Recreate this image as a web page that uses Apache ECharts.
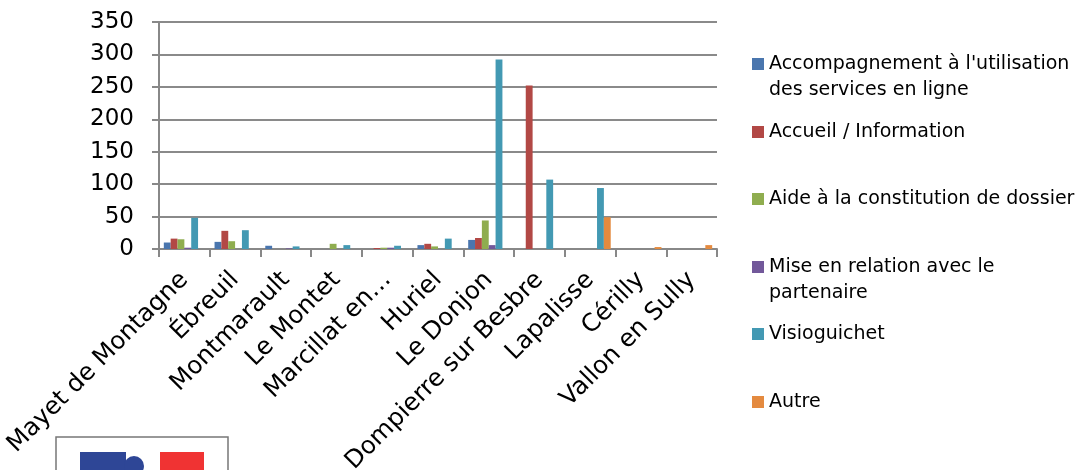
<!DOCTYPE html>
<html>
<head>
<meta charset="utf-8">
<script src="https://cdn.jsdelivr.net/npm/echarts@6/dist/echarts.min.js"></script>
<style>
html,body{margin:0;padding:0;background:#fff;}
#c{width:1083px;height:470px;}
</style>
</head>
<body>
<div id="c"></div>
<script>
var categories = ["Mayet de Montagne", "Ébreuil", "Montmarault", "Le Montet", "Marcillat en…", "Huriel", "Le Donjon", "Dompierre sur Besbre", "Lapalisse", "Cérilly", "Vallon en Sully"];
var seriesNames = ["Accompagnement à l'utilisation\ndes services en ligne", "Accueil / Information", "Aide à la constitution de dossier", "Mise en relation avec le\npartenaire", "Visioguichet", "Autre"];
var accompagnement = [10, 11, 5, 0, 0, 6, 14, 0, 0, 0, 0];
var accueil        = [16, 28, 0, 0, 1.5, 8, 17, 252, 0, 0, 0];
var aide           = [15, 12, 0, 8, 2, 4, 44, 0, 0, 0, 0];
var miseEnRelation = [2, 0, 1, 0, 2, 0, 6, 0, 0, 0, 0];
var visioguichet   = [48, 29, 4, 6, 5, 16, 292, 107, 94, 0, 0];
var autre          = [0, 0, 0, 0, 0, 0, 0, 0, 49, 3, 6];
var yTicks = [0, 50, 100, 150, 200, 250, 300, 350];

var values = [accompagnement, accueil, aide, miseEnRelation, visioguichet, autre];
var colors = ["#4A76AE", "#B24845", "#8FAD4F", "#72589A", "#4399B3", "#E48A3F"];
var legendTextCenters = [62, 130, 197, 265, 332, 400];

var FONT = "DejaVu Sans";
var LH = 26;
var LFS = 19;

var series = values.map(function (v, i) {
  return {
    name: seriesNames[i],
    type: 'bar',
    data: v,
    barGap: '0%',
    barCategoryGap: '19%',
    itemStyle: { color: colors[i] }
  };
});

var legends = seriesNames.map(function (n, i) {
  var multi = n.indexOf('\n') >= 0;
  return {
    orient: 'vertical',
    left: 752,
    top: legendTextCenters[i] - 11,
    padding: 0,
    itemWidth: 12,
    itemHeight: multi ? 12 + LH : 12,
    itemGap: 0,
    icon: multi ? 'path://M0,0H12V12H0Z M0,' + (12 + LH) + 'H12' : 'rect',
    itemStyle: { borderWidth: 0 },
    selectedMode: false,
    data: [n],
    textStyle: {
      fontFamily: FONT,
      fontSize: LFS,
      color: '#000',
      lineHeight: LH
    }
  };
});

var chart = echarts.init(document.getElementById('c'), null, { renderer: 'canvas' });
chart.setOption({
  animation: false,
  backgroundColor: '#fff',
  textStyle: { fontFamily: FONT },
  grid: { left: 159, right: 366, top: 22, bottom: 221, containLabel: false, outerBoundsMode: 'none' },
  legend: legends,
  xAxis: {
    type: 'category',
    data: categories,
    axisLine: { lineStyle: { color: '#888', width: 2 } },
    axisTick: { show: true, length: 8, lineStyle: { color: '#888', width: 2 } },
    axisLabel: {
      rotate: 45,
      margin: 27,
      interval: 0,
      fontFamily: FONT,
      fontSize: 24.5,
      color: '#000'
    },
    splitLine: { show: false }
  },
  yAxis: {
    type: 'value',
    min: yTicks[0],
    max: yTicks[yTicks.length - 1],
    interval: 50,
    axisLine: { show: true, lineStyle: { color: '#888', width: 2 } },
    axisTick: { show: true, length: 7, lineStyle: { color: '#888', width: 2 } },
    axisLabel: {
      margin: 25,
      fontFamily: FONT,
      fontSize: 23,
      color: '#000'
    },
    splitLine: { show: true, lineStyle: { color: '#8a8a8a', width: 2 } }
  },
  series: series,
  graphic: [
    { type: 'rect', shape: { x: 56, y: 437, width: 172, height: 60 }, style: { fill: '#fff', stroke: '#777', lineWidth: 1.5 }, z: 10 },
    { type: 'rect', shape: { x: 80, y: 452, width: 46, height: 30 }, style: { fill: '#2E4696' }, z: 11 },
    { type: 'circle', shape: { cx: 134, cy: 466, r: 10 }, style: { fill: '#2E4696' }, z: 11 },
    { type: 'rect', shape: { x: 160, y: 452, width: 44, height: 30 }, style: { fill: '#F03333' }, z: 11 }
  ]
});
</script>
</body>
</html>
